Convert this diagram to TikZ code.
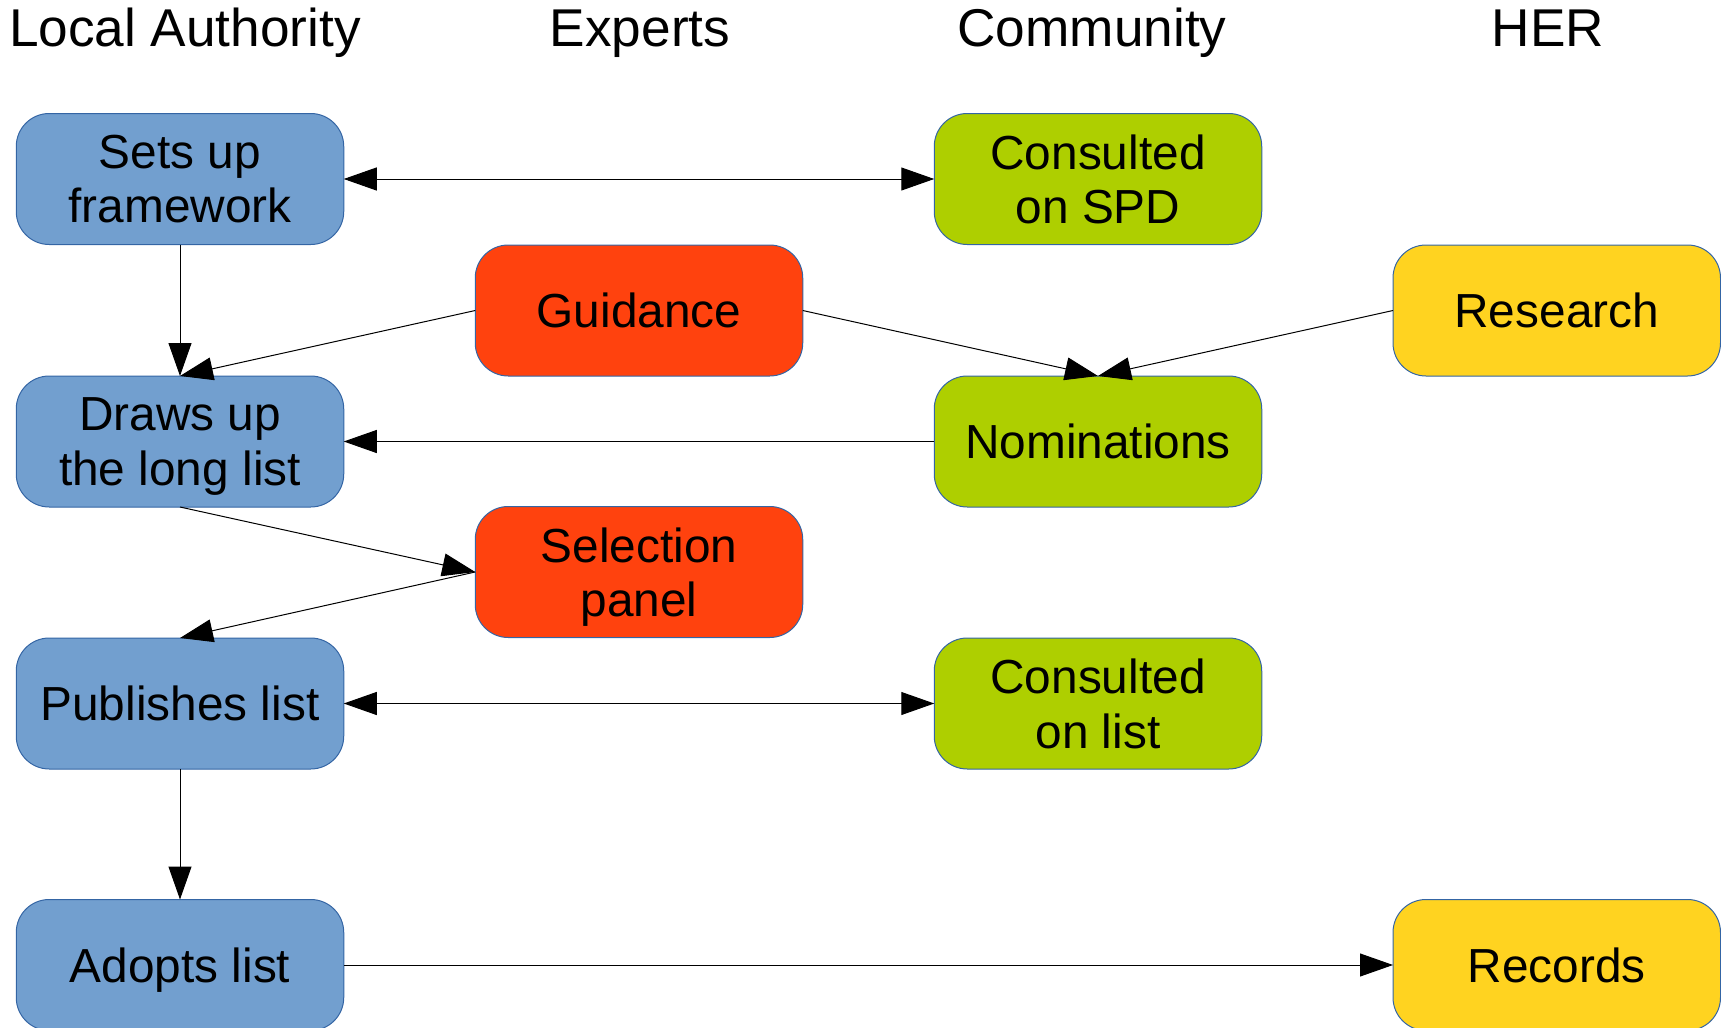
\documentclass[tikz,border=0pt]{standalone}
\usepackage{fontspec}
\setmainfont{Liberation Sans}
\usetikzlibrary{arrows.meta}
\definecolor{laBlue}{HTML}{729FCF}
\definecolor{exRed}{HTML}{FF420E}
\definecolor{coGreen}{HTML}{AECF00}
\definecolor{herYellow}{HTML}{FFD320}
\definecolor{edgeBlue}{HTML}{3465A4}
\tikzset{
  box/.style={draw=edgeBlue, line width=0.5pt, rounded corners=16.5pt,
    minimum width=163.75pt, minimum height=65.5pt, inner sep=0pt, outer sep=0pt,
    align=center, text depth=0pt, font=\fontsize{23.9}{27.2}\selectfont},
  labox/.style={box, fill=laBlue},
  exbox/.style={box, fill=exRed},
  cobox/.style={box, fill=coGreen},
  herbox/.style={box, fill=herYellow},
  header/.style={font=\fontsize{26.6}{30}\selectfont, anchor=base, inner sep=0pt},
  conn/.style={line width=0.5pt, -{Triangle[length=16.5pt,width=11.5pt]}},
  both/.style={line width=0.5pt, {Triangle[length=16.5pt,width=11.5pt]}-{Triangle[length=16.5pt,width=11.5pt]}}
}
\begin{document}
\begin{tikzpicture}[x=0.5pt,y=-0.5pt]
\useasboundingbox (0,0) rectangle (1721,1028);
% headers
\node[header] (hla) at (185,46.7) {Local Authority};
\node[header] (hex) at (640,46.7) {Experts};
\node[header] (hco) at (1092,46.7) {Community};
\node[header] (her) at (1548,46.7) {HER};
% boxes
\node[labox] (sets) at (180,179) {Sets up\\framework};
\node[cobox] (spd) at (1098,179) {Consulted\\on SPD};
\node[exbox] (guid) at (639,310.5) {Guidance};
\node[herbox] (res) at (1556.75,310.5) {Research};
\node[labox] (draws) at (180,441.5) {Draws up\\the long list};
\node[cobox] (nom) at (1098,441.5) {Nominations};
\node[exbox] (sel) at (639,572) {Selection\\panel};
\node[labox] (pub) at (180,703.5) {Publishes list};
\node[cobox] (col) at (1098,703.5) {Consulted\\on list};
\node[labox] (adopt) at (180,965) {Adopts list};
\node[herbox] (rec) at (1556.75,965) {Records};
% connectors
\draw[both] (sets.east) -- (spd.west);
\draw[conn] (sets.south) -- (draws.north);
\draw[conn] (guid.west) -- (draws.north);
\draw[conn] (guid.east) -- (nom.north);
\draw[conn] (res.west) -- (nom.north);
\draw[conn] (nom.west) -- (draws.east);
\draw[conn] (draws.south) -- (sel.west);
\draw[conn] (sel.west) -- (pub.north);
\draw[both] (pub.east) -- (col.west);
\draw[conn] (pub.south) -- (adopt.north);
\draw[conn] (adopt.east) -- (rec.west);
\end{tikzpicture}
\end{document}
